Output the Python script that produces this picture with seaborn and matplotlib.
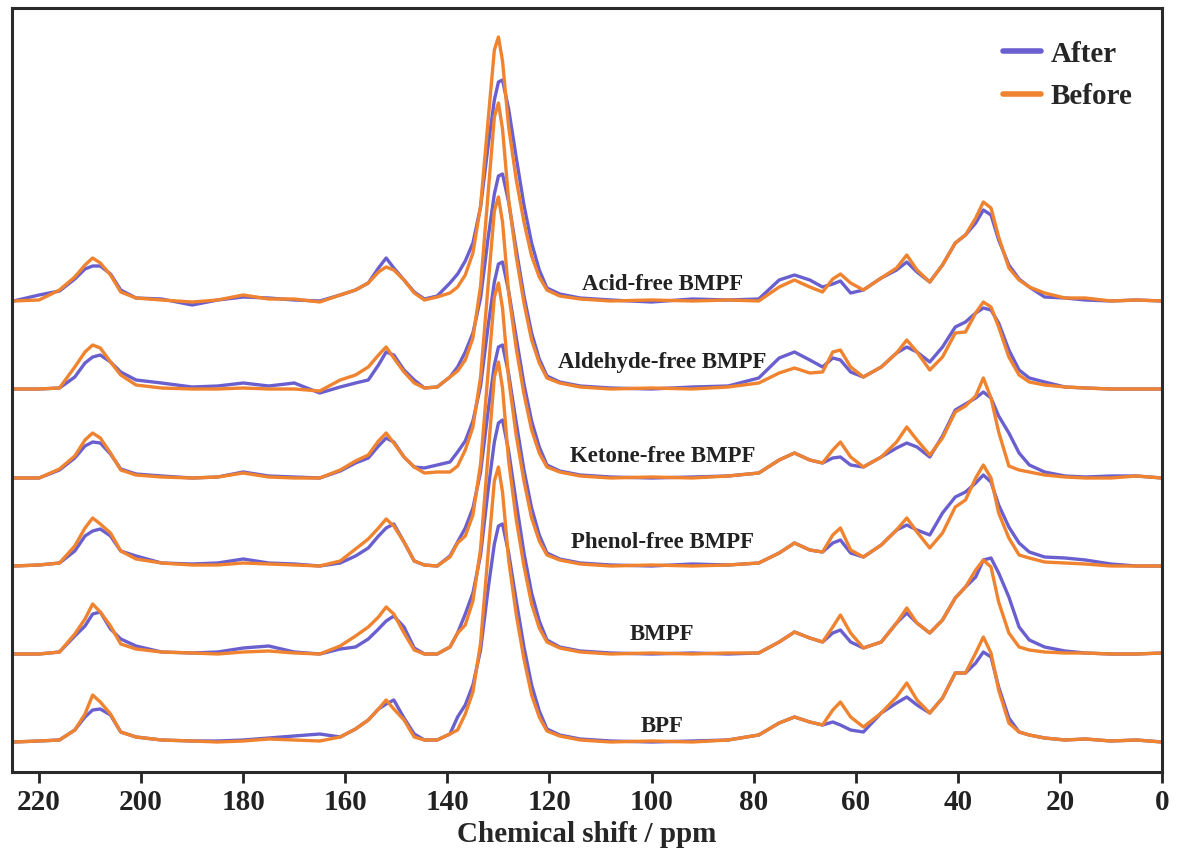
import numpy as np
import pandas as pd
import matplotlib
matplotlib.use("Agg")
import matplotlib.pyplot as plt
import seaborn as sns

# chemical shift grid (ppm) shared by all spectra
ppm = [225, 220, 216, 213, 211, 209.5, 208, 206, 204, 201, 196, 190, 185, 180, 175,
       170, 165, 161, 158, 155.5, 153.5, 152, 150.5, 148.5, 146.5, 144.5, 142, 139.5,
       138, 136.5, 135, 133.5, 132, 130.8, 130, 129.2, 128, 126.5, 125, 123.5, 122,
       120.5, 118, 114, 108, 100, 92, 85, 79, 75, 72, 69, 66.5, 64.5, 63, 61, 58.5,
       55, 52, 50, 48, 45.5, 43, 40.5, 38.5, 36.5, 35, 33.5, 32, 30, 28, 26, 23, 19,
       15, 10, 5, 0]

samples = ["Acid-free BMPF", "Aldehyde-free BMPF", "Ketone-free BMPF",
           "Phenol-free BMPF", "BMPF", "BPF"]

# intensities above each spectrum's own baseline (arbitrary units)
acid_before = [0, 1, 11, 24, 36, 43, 38, 26, 9, 3, 1, -1, 1, 6, 2, 2, -1, 6, 11, 18, 29, 34, 31,
               21, 8, 1, 4, 8, 14, 26, 48, 95, 182, 251, 264, 240, 174, 121, 79, 45, 24, 11, 5,
               2, 0, 1, 0, 1, 0, 14, 21, 14, 9, 22, 27, 18, 11, 23, 33, 46, 31, 19, 36, 58, 66,
               83, 99, 93, 64, 33, 21, 14, 8, 3, 3, 0, 1, 0]
acid_after = [0, 6, 10, 22, 32, 35, 35, 27, 11, 3, 2, -4, 1, 4, 3, 1, 0, 6, 11, 18, 33, 43, 33,
              21, 9, 2, 5, 18, 27, 40, 58, 94, 156, 201, 219, 221, 192, 143, 96, 58, 31, 13, 7,
              3, 1, -1, 2, 1, 2, 21, 26, 21, 14, 17, 20, 8, 11, 23, 31, 39, 29, 19, 36, 58, 66,
              78, 91, 86, 61, 36, 22, 14, 4, 3, 1, 0, 1, 0]
ald_before = [0, 0, 1, 22, 37, 44, 41, 27, 14, 4, 1, 0, 0, 1, 0, 0, -2, 9, 14, 22, 34, 42, 31,
              17, 6, 1, 2, 12, 18, 29, 51, 103, 197, 272, 286, 260, 189, 132, 86, 49, 26, 11, 6,
              2, 0, 1, 0, 2, 6, 16, 21, 16, 17, 37, 39, 22, 12, 22, 36, 49, 37, 19, 32, 56, 57,
              76, 87, 82, 62, 32, 14, 7, 4, 2, 1, 0, 0, 0]
ald_after = [0, 0, 1, 12, 26, 32, 34, 27, 17, 9, 6, 2, 3, 6, 3, 6, -4, 2, 6, 9, 24, 37, 34, 19,
             9, 1, 2, 12, 22, 37, 56, 91, 152, 195, 213, 215, 187, 139, 93, 56, 30, 13, 7, 3,
             1, 0, 2, 3, 11, 31, 37, 29, 22, 31, 29, 17, 12, 22, 36, 42, 37, 27, 42, 62, 67,
             76, 81, 79, 66, 39, 19, 11, 7, 2, 1, 0, 0, 0]
ket_before = [0, 0, 9, 22, 38, 45, 40, 25, 8, 3, 1, 0, 1, 5, 1, 0, 0, 8, 17, 23, 37, 45, 35,
              21, 11, 5, 6, 6, 12, 28, 51, 101, 194, 267, 281, 256, 185, 129, 84, 48, 25, 11,
              6, 2, 0, 1, 0, 2, 5, 18, 25, 18, 15, 28, 36, 21, 11, 21, 36, 51, 38, 23, 40, 66,
              72, 82, 100, 80, 46, 12, 8, 6, 3, 1, 0, 0, 2, 0]
ket_after = [0, 0, 8, 20, 32, 36, 35, 24, 9, 4, 2, 0, 1, 6, 2, 1, 0, 7, 15, 20, 32, 40, 36, 21,
             11, 10, 13, 16, 26, 37, 57, 92, 153, 196, 214, 216, 187, 140, 94, 57, 31, 13, 7,
             3, 1, 0, 1, 2, 5, 18, 25, 18, 15, 20, 21, 13, 11, 21, 30, 35, 31, 21, 42, 68, 74,
             80, 86, 80, 62, 45, 25, 13, 6, 2, 1, 2, 2, 0]
phen_before = [0, 1, 3, 20, 38, 48, 42, 33, 15, 7, 3, 1, 1, 3, 2, 1, 0, 5, 17, 27, 38, 47, 40,
               24, 5, 1, 0, 9, 23, 30, 51, 102, 195, 269, 283, 258, 187, 130, 85, 48, 25, 11,
               6, 2, 0, 1, 0, 1, 3, 13, 23, 16, 14, 31, 38, 16, 9, 21, 36, 48, 34, 18, 33, 59,
               66, 88, 101, 88, 53, 28, 11, 8, 4, 3, 2, 0, 0, 0]
phen_after = [0, 1, 3, 15, 30, 35, 37, 30, 15, 10, 3, 2, 3, 7, 3, 2, 0, 3, 10, 18, 30, 38, 42,
              24, 5, 1, 0, 10, 24, 38, 58, 94, 156, 201, 219, 221, 192, 143, 96, 58, 31, 13, 7,
              3, 1, 0, 2, 1, 3, 13, 23, 16, 14, 23, 26, 13, 9, 21, 36, 41, 36, 31, 53, 69, 74,
              83, 91, 84, 61, 39, 23, 14, 9, 8, 6, 2, 0, 0]
bmpf_before = [0, 0, 2, 20, 35, 50, 42, 28, 10, 5, 2, 1, 0, 2, 3, 1, 0, 8, 18, 27, 37, 47, 40,
               21, 4, 0, 0, 7, 21, 29, 53, 105, 201, 277, 292, 266, 193, 134, 88, 50, 26, 12,
               6, 2, 0, 1, 0, 1, 1, 12, 22, 16, 12, 27, 39, 21, 6, 12, 31, 46, 31, 21, 34, 56,
               67, 84, 94, 87, 52, 21, 7, 4, 2, 1, 1, 0, 0, 1]
bmpf_after = [0, 0, 2, 18, 28, 40, 42, 25, 15, 8, 2, 1, 2, 6, 8, 2, 0, 5, 7, 15, 25, 33, 38, 27,
              6, 0, 0, 7, 21, 40, 61, 99, 165, 212, 231, 234, 203, 151, 101, 61, 33, 14, 7, 3,
              1, 0, 1, 0, 1, 12, 22, 16, 12, 21, 24, 12, 6, 12, 31, 41, 31, 21, 34, 56, 67, 77,
              94, 96, 81, 57, 27, 14, 7, 3, 1, 0, 0, 1]
bpf_before = [0, 1, 2, 12, 28, 47, 40, 28, 10, 5, 2, 1, 0, 1, 3, 2, 1, 5, 13, 22, 33, 42, 33,
              22, 5, 2, 2, 8, 12, 28, 50, 99, 190, 261, 275, 250, 182, 127, 83, 47, 25, 11, 6,
              2, 0, 1, 0, 2, 7, 19, 25, 20, 17, 32, 40, 25, 15, 29, 45, 59, 42, 29, 44, 69, 69,
              89, 105, 89, 52, 19, 10, 7, 4, 2, 3, 1, 2, 0]
bpf_after = [0, 1, 2, 12, 25, 32, 33, 27, 10, 5, 2, 1, 1, 2, 4, 6, 8, 5, 13, 22, 33, 38, 42, 24,
             8, 2, 2, 8, 25, 37, 57, 92, 154, 198, 216, 218, 189, 141, 95, 57, 31, 13, 7, 3, 1,
             0, 1, 2, 7, 19, 25, 20, 17, 20, 17, 12, 10, 29, 39, 45, 37, 29, 44, 69, 69, 79,
             90, 85, 55, 24, 10, 7, 4, 2, 3, 1, 2, 0]

before = [acid_before, ald_before, ket_before, phen_before, bmpf_before, bpf_before]
after = [acid_after, ald_after, ket_after, phen_after, bmpf_after, bpf_after]

# vertical stacking of the traces and label placement
offsets = [471, 383, 294, 206, 118, 30]
label_y = [482, 404, 310, 224, 132, 40]
label_x = 97.9

rows = []
for name, off, a, b in zip(samples, offsets, after, before):
    for cond, vals in (("After", a), ("Before", b)):
        for x, v in zip(ppm, vals):
            rows.append({"ppm": x, "y": v + off, "cond": cond, "sample": name})
df = pd.DataFrame(rows)

sns.set_style("ticks")
plt.rcParams["font.family"] = ["Liberation Serif", "DejaVu Serif"]
plt.rcParams["font.weight"] = "bold"

fig = plt.figure(figsize=(11.8, 8.59), dpi=100)
ax = fig.add_axes([12 / 1180, 87 / 859, 1150 / 1180, 764 / 859])

palette = {"After": "#6a5fcf", "Before": "#f0832f"}
sns.lineplot(data=df, x="ppm", y="y", hue="cond", units="sample", estimator=None,
             sort=False, palette=palette, hue_order=["After", "Before"],
             linewidth=2.4, ax=ax)

for name, ly in zip(samples, label_y):
    ax.text(label_x, ly, name, ha="center", va="baseline", fontsize=16.5,
            fontweight="bold", color="#222222")

ax.set_xlim(225.3, 0)
ax.set_ylim(0, 764)
ax.set_xticks(np.arange(0, 221, 20))
ax.set_yticks([])
ax.set_ylabel("")
ax.set_xlabel("Chemical shift / ppm", fontsize=21, fontweight="bold", labelpad=4)
ax.tick_params(axis="x", direction="out", length=8, width=2, labelsize=21, pad=4,
               colors="#222222")
for lab in ax.get_xticklabels():
    lab.set_fontweight("bold")
for sp in ax.spines.values():
    sp.set_linewidth(2.2)
    sp.set_color("#2a2a2a")

handles, labels = ax.get_legend_handles_labels()
leg = ax.legend(handles, labels, loc="upper left", bbox_to_anchor=(988 / 1180, 1 - 26 / 859),
                bbox_transform=fig.transFigure, frameon=False, borderpad=0,
                handlelength=1.3, handletextpad=0.35, labelspacing=0.52,
                prop={"size": 21, "weight": "bold"})
for line in leg.get_lines():
    line.set_linewidth(4)

fig.savefig("out.png", dpi=100)
